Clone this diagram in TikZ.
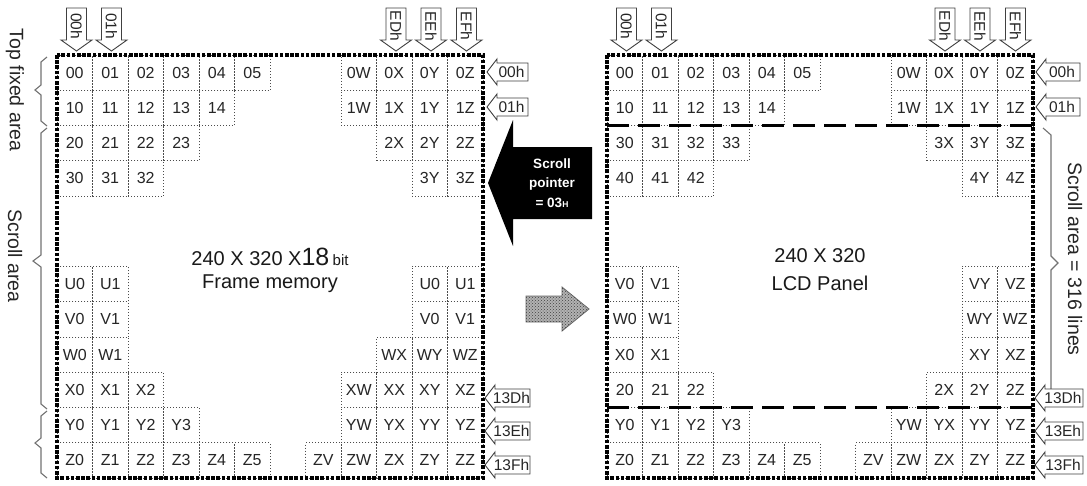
\documentclass[tikz,border=0pt]{standalone}
\usepackage{fontspec}
\setmainfont{Liberation Sans}
\usetikzlibrary{patterns}
\begin{document}
\begin{tikzpicture}[x=1pt,y=-1pt,
  cellbox/.style={draw=black!70, dash pattern=on 0.9pt off 2.1pt, line width=0.8pt,
    minimum width=35.5pt, minimum height=35.25pt, inner sep=0pt, outer sep=0pt,
    text=black!85, font=\fontsize{16}{16}\selectfont},
  frameborder/.style={draw=black, line width=3.4pt, dash pattern=on 3.6pt off 1.6pt},
  longdash/.style={draw=black, line width=2.4pt, dash pattern=on 22pt off 9pt},
  lblarrow/.style={draw=black!75, fill=white, line width=0.9pt},
  lbltext/.style={inner sep=0pt, text=black!85, font=\fontsize{15.5}{15.5}\selectfont},
  bracestyle/.style={draw=black!55, line width=1.1pt},
  sidetext/.style={inner sep=0pt, text=black!85, font=\fontsize{19.5}{19.5}\selectfont, rotate=-90},
  centertext/.style={inner sep=0pt, text=black!90, font=\fontsize{20}{20}\selectfont}
]
\useasboundingbox (0,0) rectangle (1087,485);
\fill[white] (0,0) rectangle (1087,485);

\newcommand{\downlbl}[3]{%
  \draw[lblarrow] ({#2-10},8) -- ({#2+10},8) -- ({#2+10},40) -- ({#2+15.5},40) -- (#2,51) -- ({#2-15.5},40) -- ({#2-10},40) -- cycle;
  \node[lbltext, rotate=-90] (#1) at (#2,26) {#3};}
\newcommand{\leftlbl}[5]{%
  \draw[lblarrow] (#2,#3) -- ++(10,-13) -- ++(0,4) -- ++({#4-10},0) -- ++(0,18) -- ++({-(#4-10)},0) -- ++(0,4) -- cycle;
  \node[lbltext] (#1) at ({#2+#4/2+4},#3) {#5};}

% ---------- left frame cells ----------
\foreach \c/\r/\t in {0/0/00,1/0/01,2/0/02,3/0/03,4/0/04,5/0/05,8/0/0W,9/0/0X,10/0/0Y,11/0/0Z,
  0/1/10,1/1/11,2/1/12,3/1/13,4/1/14,8/1/1W,9/1/1X,10/1/1Y,11/1/1Z,
  0/2/20,1/2/21,2/2/22,3/2/23,9/2/2X,10/2/2Y,11/2/2Z,
  0/3/30,1/3/31,2/3/32,10/3/3Y,11/3/3Z,
  0/6/U0,1/6/U1,10/6/U0,11/6/U1,
  0/7/V0,1/7/V1,10/7/V0,11/7/V1,
  0/8/W0,1/8/W1,9/8/WX,10/8/WY,11/8/WZ,
  0/9/X0,1/9/X1,2/9/X2,8/9/XW,9/9/XX,10/9/XY,11/9/XZ,
  0/10/Y0,1/10/Y1,2/10/Y2,3/10/Y3,8/10/YW,9/10/YX,10/10/YY,11/10/YZ,
  0/11/Z0,1/11/Z1,2/11/Z2,3/11/Z3,4/11/Z4,5/11/Z5,7/11/ZV,8/11/ZW,9/11/ZX,10/11/ZY,11/11/ZZ}
  {\node[cellbox] (L-\r-\c) at ({57+(\c+0.5)*35.5},{55+(\r+0.5)*35.25}) {\t};}

% ---------- right frame cells ----------
\foreach \c/\r/\t in {0/0/00,1/0/01,2/0/02,3/0/03,4/0/04,5/0/05,8/0/0W,9/0/0X,10/0/0Y,11/0/0Z,
  0/1/10,1/1/11,2/1/12,3/1/13,4/1/14,8/1/1W,9/1/1X,10/1/1Y,11/1/1Z,
  0/2/30,1/2/31,2/2/32,3/2/33,9/2/3X,10/2/3Y,11/2/3Z,
  0/3/40,1/3/41,2/3/42,10/3/4Y,11/3/4Z,
  0/6/V0,1/6/V1,10/6/VY,11/6/VZ,
  0/7/W0,1/7/W1,10/7/WY,11/7/WZ,
  0/8/X0,1/8/X1,10/8/XY,11/8/XZ,
  0/9/20,1/9/21,2/9/22,9/9/2X,10/9/2Y,11/9/2Z,
  0/10/Y0,1/10/Y1,2/10/Y2,3/10/Y3,8/10/YW,9/10/YX,10/10/YY,11/10/YZ,
  0/11/Z0,1/11/Z1,2/11/Z2,3/11/Z3,4/11/Z4,5/11/Z5,7/11/ZV,8/11/ZW,9/11/ZX,10/11/ZY,11/11/ZZ}
  {\node[cellbox] (R-\r-\c) at ({607+(\c+0.5)*35.5},{55+(\r+0.5)*35.25}) {\t};}

% dashed separators in LCD panel
\draw[longdash] (607,125.5) -- (1033,125.5);
\draw[longdash] (607,407.5) -- (1033,407.5);

% frames
\draw[frameborder] (57,55) rectangle (483,478);
\draw[frameborder] (607,55) rectangle (1033,478);

% center texts
\node[centertext] (fm1) at (270,257) {240 X 320 X{\fontsize{25}{25}\selectfont 18}\,{\fontsize{15}{15}\selectfont bit}};
\node[centertext] (fm2) at (270,284) {Frame memory};
\node[centertext] (lcd1) at (820,256) {240 X 320};
\node[centertext] (lcd2) at (820,283) {LCD Panel};

% braces
\draw[bracestyle] (47,57) -- (41,62) -- (41,85) -- (35,90) -- (41,95) -- (41,121) -- (47,126);
\draw[bracestyle] (47,128) -- (41,133) -- (41,255) -- (33,261) -- (41,267) -- (41,404) -- (47,409);
\draw[bracestyle] (47,411) -- (41,416) -- (41,438) -- (35,443) -- (41,448) -- (41,473) -- (47,478);
\draw[bracestyle] (1043,128) -- (1051,135) -- (1051,256) -- (1058,263) -- (1051,270) -- (1051,395) -- (1043,402);

\node[sidetext] (topfixed) at (15,90) {Top fixed area};
\node[sidetext] (scrollL) at (15,256) {Scroll area};
\node[sidetext] (scrollR) at (1075,259) {Scroll area = 316 lines};

% top down arrows
\downlbl{tL00}{76.5}{00h}
\downlbl{tL01}{111.5}{01h}
\downlbl{tLED}{396}{EDh}
\downlbl{tLEE}{431}{EEh}
\downlbl{tLEF}{466.5}{EFh}
\downlbl{tR00}{626.5}{00h}
\downlbl{tR01}{661.5}{01h}
\downlbl{tRED}{945}{EDh}
\downlbl{tREE}{980}{EEh}
\downlbl{tREF}{1015.5}{EFh}

% side left-pointing arrows
\leftlbl{sL00}{487}{72}{41}{00h}
\leftlbl{sL01}{487}{107}{41}{01h}
\leftlbl{sL3D}{485}{398}{45}{13Dh}
\leftlbl{sL3E}{485}{431}{45}{13Eh}
\leftlbl{sL3F}{485}{465}{45}{13Fh}
\leftlbl{sR00}{1036}{72}{44}{00h}
\leftlbl{sR01}{1036}{107}{44}{01h}
\leftlbl{sR3D}{1035}{398}{48}{13Dh}
\leftlbl{sR3E}{1035}{431}{48}{13Eh}
\leftlbl{sR3F}{1035}{465}{48}{13Fh}

% scroll pointer black arrow
\fill[black] (488,183) -- (513,120) -- (513,147) -- (592,147) -- (592,219) -- (513,219) -- (513,246) -- cycle;
\node[align=center, text=white, inner sep=0pt, font=\bfseries\fontsize{13.5}{19.5}\selectfont] (sptr) at (552,183)
  {Scroll\\pointer\\= 03{\fontsize{8.5}{8.5}\selectfont H}};

% gray dotted arrow
\draw[draw=black!60, line width=0.8pt, fill=black!30, postaction={pattern=crosshatch dots, pattern color=black!75}]
  (526,296) -- (562,296) -- (562,287) -- (589,309) -- (562,331) -- (562,322) -- (526,322) -- cycle;
\end{tikzpicture}
\end{document}
